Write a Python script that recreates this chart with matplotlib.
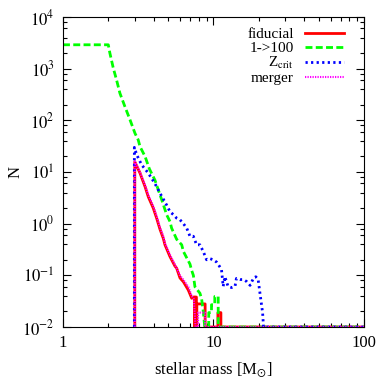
import numpy as np
import matplotlib
matplotlib.use("Agg")
import matplotlib.pyplot as plt

plt.rcParams['font.family'] = ['Liberation Serif', 'DejaVu Serif']
plt.rcParams['mathtext.fontset'] = 'stix'
plt.rcParams['font.size'] = 11

# fiducial
m_fid = [3.0, 3.0, 3.25, 3.51, 3.69, 3.98, 4.19, 4.41, 4.64, 4.76, 5.14, 5.55, 5.69,
         5.99, 6.31, 6.8, 7.17, 7.3, 7.5, 7.5, 7.55, 7.55, 7.7, 7.7, 7.75, 7.75, 8.8, 8.8,
         10.7, 10.7, 11.2, 11.2, 100]
n_fid = [0.01, 15.8, 9.5, 5.2, 3.3, 2.0, 1.28, 0.78, 0.52, 0.39, 0.23, 0.15, 0.138,
         0.089, 0.075, 0.052, 0.036, 0.038, 0.038, 0.01, 0.01, 0.038, 0.038, 0.01, 0.01, 0.028,
         0.028, 0.01, 0.01, 0.019, 0.019, 0.01, 0.01]

# 1->100
m_wide = [1.0, 2.0, 2.05, 2.16, 2.27, 2.39, 2.58, 2.79, 3.01, 3.16, 3.25, 3.51, 3.75, 4.08,
          4.3, 4.53, 4.89, 5.14, 5.27, 5.69, 6.15, 6.31, 6.98, 7.16, 7.35, 7.53, 8.13, 8.34,
          8.55, 8.75, 9.3, 9.3, 9.7, 9.7, 10.2, 10.2, 10.75, 10.75, 100]
n_wide = [2900, 2900, 1990, 1020, 604, 334, 184, 102, 56, 42, 31, 20, 11.5, 7.0,
          4.5, 2.9, 1.48, 1.1, 0.82, 0.5, 0.39, 0.29, 0.165, 0.125, 0.1, 0.06, 0.045, 0.035,
          0.02, 0.01, 0.01, 0.019, 0.019, 0.027, 0.027, 0.039, 0.039, 0.01, 0.01]

# Z_crit
m_zcr = [2.98, 2.98, 3.09, 3.33, 3.69, 4.08, 4.41, 4.88, 5.14, 5.41, 5.69, 5.99, 6.31,
         6.64, 6.98, 7.35, 7.72, 8.13, 8.55, 9.0, 9.5, 9.97, 10.5, 10.8, 11.3, 11.6, 11.9,
         12.5, 13.2, 13.9, 14.2, 15.0, 15.8, 16.6, 17.5, 18.4, 19.1, 19.8, 20.5, 21.2, 21.5, 100]
n_zcr = [0.01, 30, 21.5, 13.8, 9.5, 6.0, 3.9, 2.3, 1.7, 1.5, 1.28, 1.19, 1.0,
         0.82, 0.57, 0.57, 0.39, 0.39, 0.29, 0.2, 0.21, 0.2, 0.18, 0.16, 0.13, 0.061, 0.094,
         0.061, 0.058, 0.061, 0.087, 0.083, 0.083, 0.076, 0.064, 0.087, 0.094, 0.083, 0.039, 0.019, 0.01, 0.01]

# merger
m_mrg = [3.0, 3.0, 3.25, 3.51, 3.69, 3.98, 4.19, 4.41, 4.64, 4.76, 5.14, 5.55, 5.99,
         6.31, 6.8, 7.17, 7.4, 7.6, 7.9, 7.9, 8.8, 8.8, 100]
n_mrg = [0.01, 16, 10, 5.6, 3.6, 2.2, 1.4, 0.85, 0.57, 0.42, 0.25, 0.16, 0.1,
         0.082, 0.06, 0.04, 0.035, 0.01, 0.01, 0.019, 0.019, 0.01, 0.01]

fig = plt.figure(figsize=(3.9, 3.9), dpi=100)
ax = fig.add_axes([0.1615, 0.1615, 0.7718, 0.7949])

ax.plot(m_fid, n_fid, color='#ff0000', lw=2.0, label='fiducial')
ax.plot(m_wide, n_wide, color='#00ff00', lw=2.0, ls=(0, (2.5, 1.2)), label='1->100')
ax.plot(m_zcr, n_zcr, color='#0000ff', lw=2.0, ls=(0, (0.8, 1.2)), label='Z$_{\\rm crit}$')
ax.plot(m_mrg, n_mrg, color='#ff00ff', lw=1.5, ls=(0, (0.6, 0.6)), label='merger')

ax.set_xscale('log')
ax.set_yscale('log')
ax.set_xlim(1, 100)
ax.set_ylim(1e-2, 1e4)
ax.set_xticks([1, 10, 100])
ax.set_xticklabels(['1', '10', '100'])
ax.set_yticks([1e-2, 1e-1, 1, 10, 100, 1e3, 1e4])
ax.set_yticklabels(['$10^{-2}$', '$10^{-1}$', '$10^{0}$', '$10^{1}$', '$10^{2}$', '$10^{3}$', '$10^{4}$'])
ax.tick_params(which='major', direction='in', length=6, width=0.8, top=True, right=True, labelsize=12, pad=6)
ax.tick_params(which='minor', direction='in', length=3, width=0.8, top=True, right=True)
ax.yaxis.set_minor_locator(matplotlib.ticker.LogLocator(base=10, subs=(2, 4, 6, 8), numticks=20))
ax.yaxis.set_minor_formatter(matplotlib.ticker.NullFormatter())

ax.set_xlabel('stellar mass [M$_{\\odot}$]', fontsize=12, labelpad=6)
ax.set_ylabel('N', fontsize=12)
ax.yaxis.set_label_coords(-0.13, 0.5)

leg = ax.legend(loc='upper right', frameon=False, fontsize=11, markerfirst=False,
                handlelength=2.6, handletextpad=0.7, labelspacing=0.0,
                borderaxespad=0.3, bbox_to_anchor=(0.97, 1.0))
for t in leg.get_texts():
    t.set_ha('right')
leg._legend_box.align = 'right'

fig.savefig('out.png', dpi=100)
